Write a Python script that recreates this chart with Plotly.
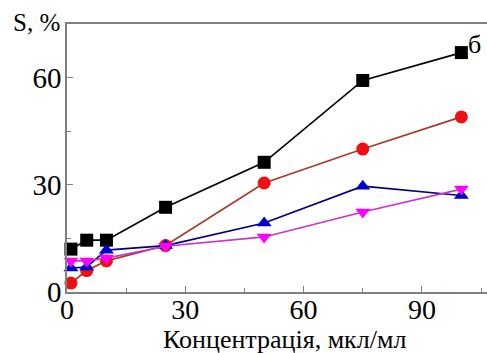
import plotly.graph_objects as go

x_vals = [1, 5, 10, 25, 50, 75, 100]
s_black = [12, 14.5, 14.5, 23.7, 36.3, 59.2, 67]
s_red = [2.5, 6, 8.7, 13, 30.5, 40, 49]
s_blue = [6.7, 7, 11.7, 13, 19.3, 29.6, 27]
s_magenta = [8.7, 8.7, 9.5, 12.8, 15.4, 22.4, 28.8]

x_ticks = [0, 30, 60, 90]
y_ticks = [0, 30, 60]

SERIF = "Liberation Serif"

fig = go.Figure()
series = [
    (s_black, "black", "black", "square"),
    (s_red, "#a83a28", "#ee1111", "circle"),
    (s_blue, "#000080", "#0000cc", "triangle-up"),
    (s_magenta, "#cc33cc", "#ff00ff", "triangle-down"),
]
for ys, lc, mc, sym in series:
    fig.add_trace(go.Scatter(x=x_vals, y=ys, mode="lines+markers",
                             line=dict(color=lc, width=1.7),
                             marker=dict(color=mc, symbol=sym, size=13),
                             showlegend=False, cliponaxis=False))

fig.add_annotation(x=x_vals[-1], y=s_black[-1], text="б", showarrow=False,
                   xanchor="left", yanchor="middle", xshift=5, yshift=8,
                   font=dict(family=SERIF, size=26, color="black"))
fig.add_annotation(xref="paper", yref="paper", x=0, y=1, text="S, %", showarrow=False,
                   xanchor="right", yanchor="middle", xshift=-5, yshift=2,
                   font=dict(family=SERIF, size=25, color="black"))
fig.add_annotation(xref="paper", yref="paper", x=0.517, y=0, text="Концентрація, мкл/мл",
                   showarrow=False, xanchor="center", yanchor="middle", yshift=-47,
                   font=dict(family=SERIF, size=26, color="black"))

fig.update_layout(
    width=487, height=353,
    margin=dict(l=67, r=0, t=24, b=61),
    plot_bgcolor="white", paper_bgcolor="white",
    font=dict(family=SERIF, size=29, color="black"),
    xaxis=dict(range=[0, 106.5], tickvals=x_ticks, showline=True, linecolor="#808080",
               linewidth=1.5, mirror=True, ticks="inside", ticklen=6, tickcolor="#808080",
               showgrid=False, zeroline=False, ticklabelstandoff=-8,
               tickfont=dict(family=SERIF, size=28),
               minor=dict(tickvals=[15, 45, 75, 105], ticks="inside", ticklen=4, tickcolor="#808080")),
    yaxis=dict(range=[0, 75], tickvals=y_ticks, showline=True, linecolor="#808080",
               linewidth=1.5, ticks="inside", ticklen=6, tickcolor="#808080",
               showgrid=False, zeroline=False, ticklabelstandoff=-2,
               tickfont=dict(family=SERIF, size=29),
               minor=dict(tickvals=[15, 45], ticks="inside", ticklen=4, tickcolor="#808080")),
)

fig.write_html("out.html", config={"displayModeBar": False},
               post_script="document.body.style.margin='0';document.body.style.overflow='hidden';")
